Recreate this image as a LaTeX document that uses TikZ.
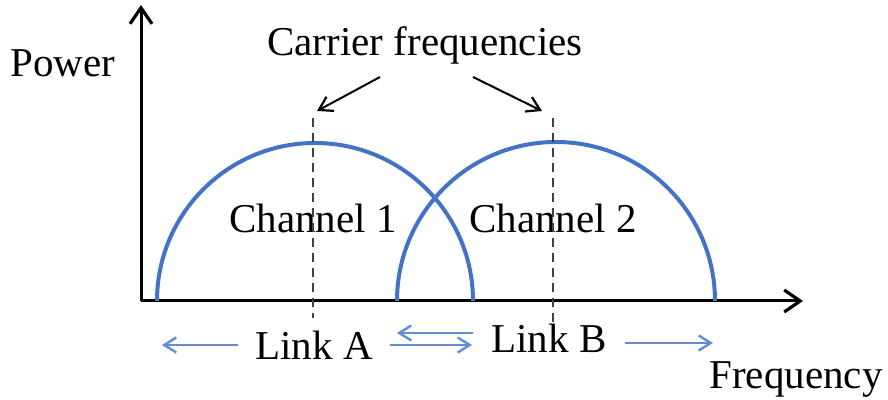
\documentclass[tikz,border=0pt]{standalone}
\usepackage{fontspec}
\setmainfont{Liberation Serif}
\usetikzlibrary{arrows.meta}
\definecolor{chblue}{RGB}{68,114,196}
\definecolor{linkblue}{RGB}{96,142,206}
\begin{document}
\begin{tikzpicture}[x=0.5pt,y=0.5pt,
  font=\fontsize{20.5}{24}\selectfont,
  axis/.style={line width=1.5pt,-{Straight Barb[length=8pt,width=11pt,line width=1.6pt]}},
  channel/.style={chblue,line width=2pt},
  carrier/.style={black!75,dash pattern=on 4.5pt off 3pt,line width=0.7pt},
  pointer/.style={line width=1pt,-{Straight Barb[length=6.5pt,width=8pt,line width=1.1pt]}},
  linkarrow/.style={linkblue,line width=1.2pt,-{Straight Barb[length=6pt,width=7.5pt,line width=1.2pt]}}]
\useasboundingbox (0,0) rectangle (888,400);
% axes
\coordinate (o) at (141,99);
\coordinate (ytop) at (141,395);
\coordinate (xend) at (803,99);
\draw [axis] (o) -- (ytop);
\draw [axis] (o) -- (xend);
\node (power) at (63,337) {Power};
\node (freq) at (796,20) {Frequency};
% channels
\draw [channel] (157,99) arc (180:0:158);
\draw [channel] (397,99) arc (180:0:159);
\node (ch1) at (313,182) {Channel 1};
\node (ch2) at (553,182) {Channel 2};
% carrier frequencies
\coordinate (f1top) at (313,282);
\coordinate (f1bot) at (313,82);
\coordinate (f2top) at (553,282);
\coordinate (f2bot) at (553,75);
\draw [carrier] (f1top) -- (f1bot);
\draw [carrier] (f2top) -- (f2bot);
\node (carrier) at (425,355) {Carrier frequencies};
\coordinate (p1) at (317,289);
\coordinate (p2) at (542,289);
\draw [pointer] (380,323) -- (p1);
\draw [pointer] (473,323) -- (p2);
% links
\node [inner xsep=8.5pt] (linkA) at (314,55) {Link A};
\node [inner xsep=9pt] (linkB) at (549,62) {Link B};
\coordinate (a1) at (162,55);
\coordinate (a2) at (472,55);
\coordinate (b1) at (397,67);
\coordinate (b2) at (713,57);
\draw [linkarrow] (linkA.west) -- (a1);
\draw [linkarrow] (linkA.east) -- (a2);
\draw [linkarrow] ([yshift=2.5pt]linkB.west) -- (b1);
\draw [linkarrow] ([yshift=-2.5pt]linkB.east) -- (b2);
\end{tikzpicture}
\end{document}
